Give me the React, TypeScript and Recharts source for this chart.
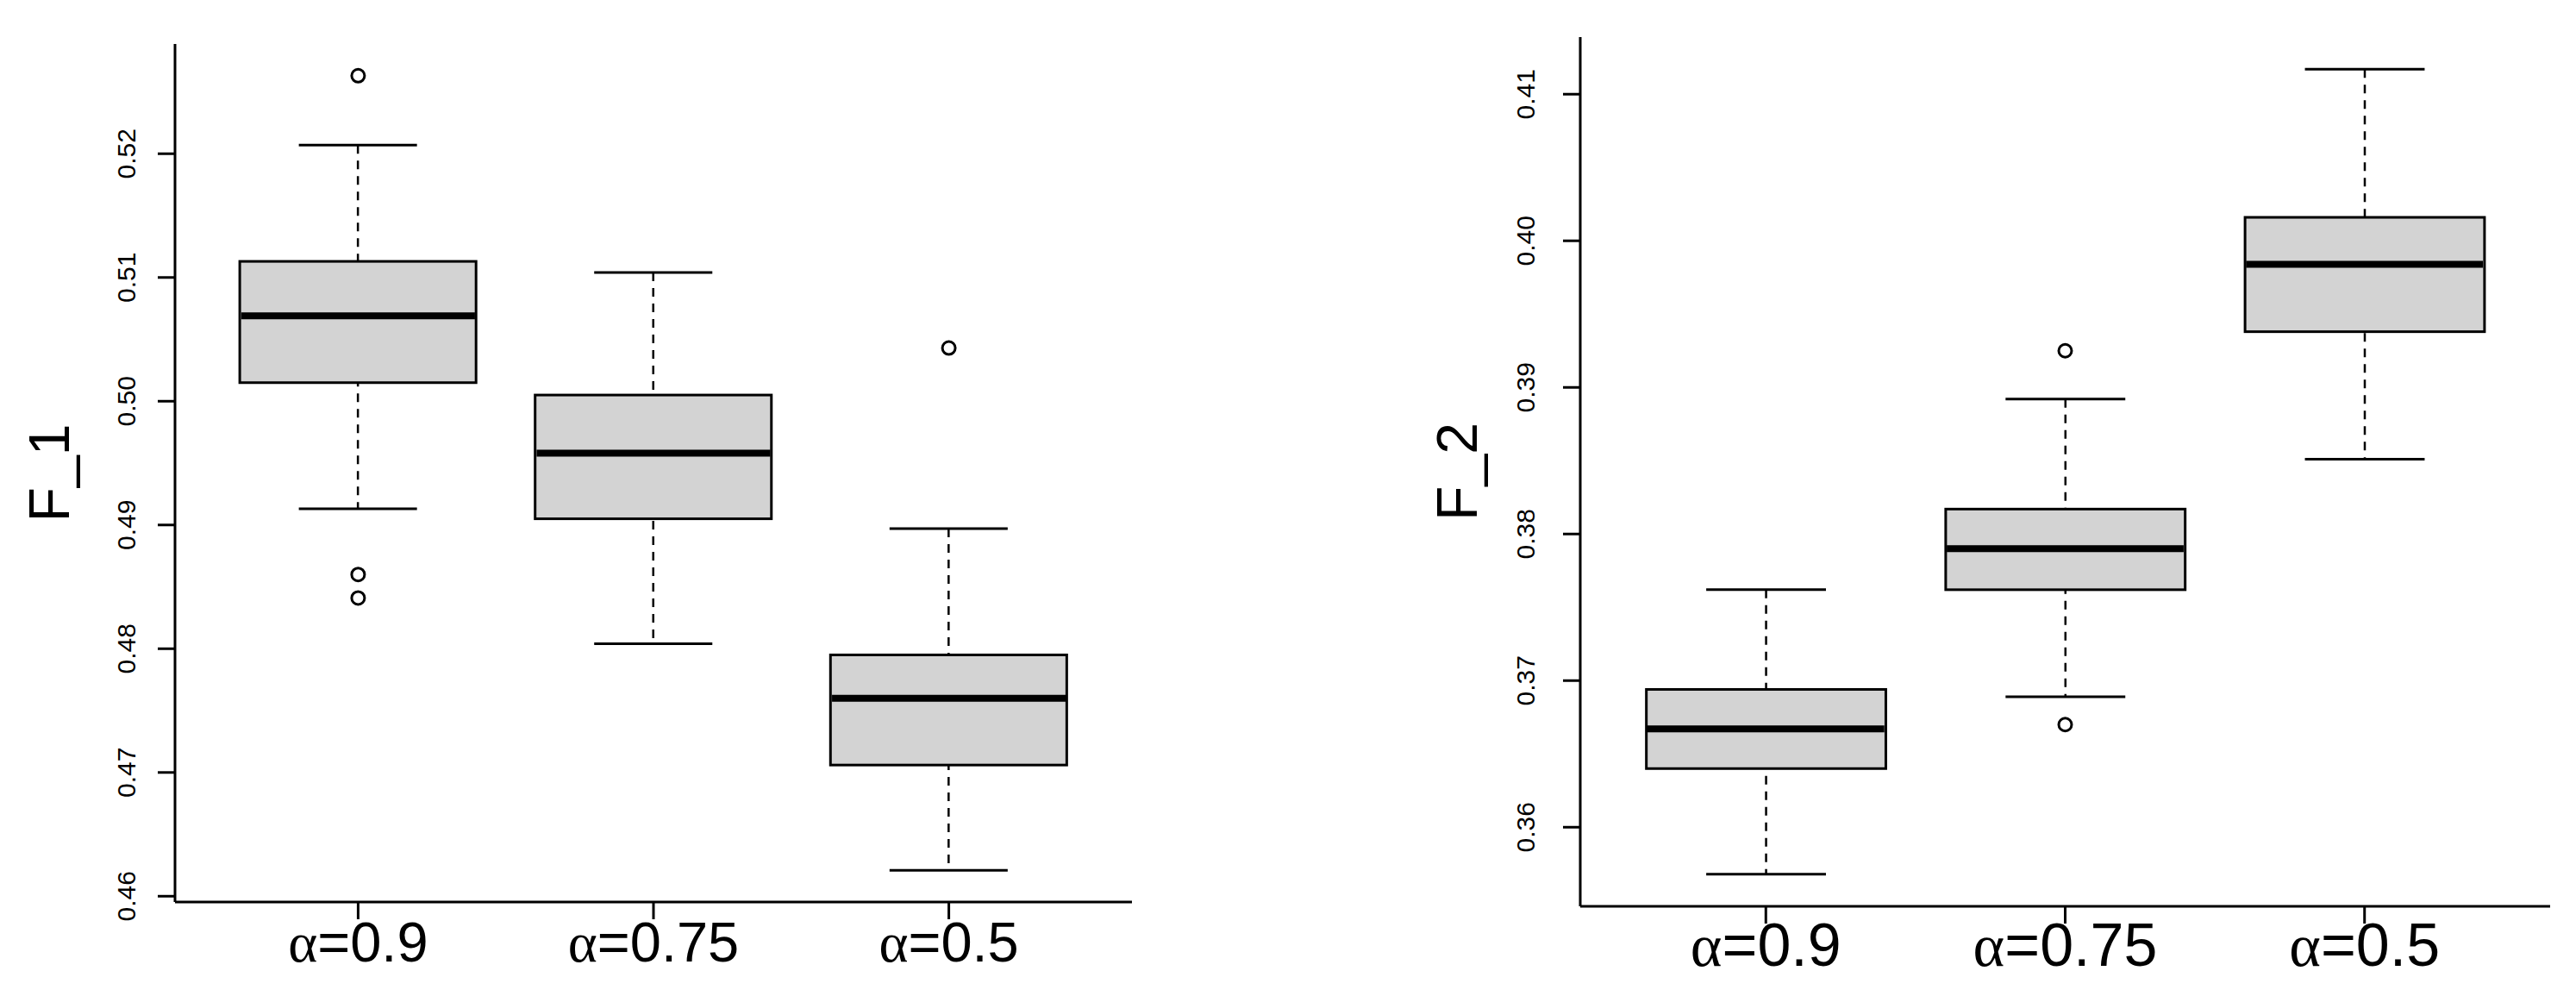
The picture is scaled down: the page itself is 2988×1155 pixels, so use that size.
import { ComposedChart, Bar, Scatter, XAxis, YAxis } from 'recharts';

const categories = ['α=0.9', 'α=0.75', 'α=0.5'];
const positions = [1, 2, 3];
const xDomain: [number, number] = [0.38, 3.62];

// F_1 panel
const f1Lower = [0.4913, 0.4804, 0.4621];
const f1Q1 = [0.5015, 0.4905, 0.4706];
const f1Median = [0.5069, 0.4958, 0.476];
const f1Q3 = [0.5113, 0.5005, 0.4795];
const f1Upper = [0.5207, 0.5104, 0.4897];
const f1Outliers = [[0.5263, 0.486, 0.4841], [], [0.5043]];
const f1Ticks = [0.46, 0.47, 0.48, 0.49, 0.5, 0.51, 0.52];

// F_2 panel
const f2Lower = [0.3568, 0.3689, 0.3851];
const f2Q1 = [0.364, 0.3762, 0.3938];
const f2Median = [0.3667, 0.379, 0.3984];
const f2Q3 = [0.3694, 0.3817, 0.4016];
const f2Upper = [0.3762, 0.3892, 0.4117];
const f2Outliers = [[], [0.3925, 0.367], []];
const f2Ticks = [0.36, 0.37, 0.38, 0.39, 0.4, 0.41];

const buildRows = (lower: number[], q1: number[], median: number[], q3: number[], upper: number[]) =>
  positions.map((pos, i) => ({
    pos,
    label: categories[i],
    whisker: [lower[i], upper[i]],
    box: [q1[i], q3[i]],
    median: median[i],
  }));

const buildOutliers = (outliers: number[][]) =>
  outliers.flatMap((vals, i) => vals.map((v) => ({ pos: positions[i], value: v })));

// same padding R uses (4% of the data range)
const rDomain = (lists: number[][]): [number, number] => {
  const all = lists.flat();
  const lo = Math.min(...all);
  const hi = Math.max(...all);
  const pad = (hi - lo) * 0.04;
  return [lo - pad, hi + pad];
};

const WhiskerShape = (props: any) => {
  const { x, y, width, height } = props;
  const cx = x + width / 2;
  const top = Math.min(y, y + height);
  const bottom = Math.max(y, y + height);
  const cap = width / 4;
  return (
    <g>
      <line x1={cx} x2={cx} y1={top} y2={bottom} stroke="#000" strokeWidth={2.5} strokeDasharray="10 8" />
      <line x1={cx - cap} x2={cx + cap} y1={top} y2={top} stroke="#000" strokeWidth={3} />
      <line x1={cx - cap} x2={cx + cap} y1={bottom} y2={bottom} stroke="#000" strokeWidth={3} />
    </g>
  );
};

const BoxShape = (props: any) => {
  const { x, y, width, height } = props;
  const top = Math.min(y, y + height);
  return <rect x={x} y={top} width={width} height={Math.abs(height)} fill="#D3D3D3" stroke="#000" strokeWidth={3} />;
};

interface PanelProps {
  title: string;
  rows: ReturnType<typeof buildRows>;
  outliers: { pos: number; value: number }[];
  ticks: number[];
  domain: [number, number];
  left: number;
  width: number;
  top: number;
  yAxisWidth: number;
  xAxisHeight: number;
  rightMargin: number;
  titleX: number;
  tickLabelGap: number;
  labelSize: number;
}

const BoxPanel = (p: PanelProps) => {
  const plotWidth = p.width - p.yAxisWidth - p.rightMargin;
  const unit = plotWidth / (xDomain[1] - xDomain[0]);
  const boxWidth = unit * 0.8;
  const height = 1155;

  const XTick = ({ x, y, payload }: any) => {
    const row = p.rows.find((r) => r.pos === payload.value);
    const label = row ? row.label : '';
    return (
      <text x={x} y={y + 49} textAnchor="middle" fontSize={p.labelSize} fill="#000">
        <tspan fontFamily="'Liberation Serif', 'DejaVu Serif', serif">{label.slice(0, 1)}</tspan>
        {label.slice(1)}
      </text>
    );
  };

  const YTick = ({ x, y, payload }: any) => {
    const bx = x - p.tickLabelGap;
    return (
      <text x={bx} y={y} transform={`rotate(-90 ${bx} ${y})`} textAnchor="middle" fontSize={30} fill="#000">
        {Number(payload.value).toFixed(2)}
      </text>
    );
  };

  const TitleLabel = ({ viewBox }: any) => {
    const cy = viewBox.y + viewBox.height / 2;
    return (
      <text x={p.titleX} y={cy} transform={`rotate(-90 ${p.titleX} ${cy})`} textAnchor="middle" fontSize={66} fill="#000">
        {p.title}
      </text>
    );
  };

  return (
    <div style={{ position: 'absolute', left: p.left, top: 0, width: p.width, height }}>
      <ComposedChart
        width={p.width}
        height={height}
        data={p.rows}
        margin={{ top: p.top, right: p.rightMargin, bottom: 0, left: 0 }}
        style={{ fontFamily: "'Liberation Sans', Arial, sans-serif" }}
      >
        <XAxis
          xAxisId="main"
          type="number"
          dataKey="pos"
          domain={xDomain}
          ticks={positions}
          allowDataOverflow
          height={p.xAxisHeight}
          axisLine={{ stroke: '#000', strokeWidth: 3 }}
          tickLine={{ stroke: '#000', strokeWidth: 3 }}
          tickSize={20}
          tickMargin={0}
          tick={<XTick />}
          interval={0}
        />
        <XAxis xAxisId="whisk" type="number" dataKey="pos" domain={xDomain} allowDataOverflow hide />
        <YAxis
          type="number"
          domain={p.domain}
          ticks={p.ticks}
          allowDataOverflow
          width={p.yAxisWidth}
          axisLine={{ stroke: '#000', strokeWidth: 3 }}
          tickLine={{ stroke: '#000', strokeWidth: 3 }}
          tickSize={20}
          tickMargin={0}
          tick={<YTick />}
          interval={0}
          label={{ content: <TitleLabel /> }}
        />
        <Bar xAxisId="whisk" dataKey="whisker" barSize={boxWidth} shape={<WhiskerShape />} isAnimationActive={false} />
        <Bar xAxisId="main" dataKey="box" barSize={boxWidth} shape={<BoxShape />} isAnimationActive={false} />
        <Scatter
          xAxisId="main"
          data={p.rows}
          dataKey="median"
          isAnimationActive={false}
          shape={(s: any) => (
            <line x1={s.cx - boxWidth / 2 + 1.5} x2={s.cx + boxWidth / 2 - 1.5} y1={s.cy} y2={s.cy} stroke="#000" strokeWidth={8} />
          )}
        />
        <Scatter
          xAxisId="main"
          data={p.outliers}
          dataKey="value"
          isAnimationActive={false}
          shape={(s: any) => <circle cx={s.cx} cy={s.cy} r={7.5} fill="none" stroke="#000" strokeWidth={3} />}
        />
      </ComposedChart>
    </div>
  );
};

const App = () => {
  const f1Rows = buildRows(f1Lower, f1Q1, f1Median, f1Q3, f1Upper);
  const f2Rows = buildRows(f2Lower, f2Q1, f2Median, f2Q3, f2Upper);
  return (
    <div style={{ position: 'absolute', left: 0, top: 0, width: 2988, height: 1155, background: '#fff' }}>
      <BoxPanel
        title="F_1"
        rows={f1Rows}
        outliers={buildOutliers(f1Outliers)}
        ticks={f1Ticks}
        domain={rDomain([f1Lower, f1Upper, ...f1Outliers])}
        left={0}
        width={1400}
        top={51}
        yAxisWidth={203}
        xAxisHeight={109}
        rightMargin={87}
        titleX={80}
        tickLabelGap={26}
        labelSize={65}
      />
      <BoxPanel
        title="F_2"
        rows={f2Rows}
        outliers={buildOutliers(f2Outliers)}
        ticks={f2Ticks}
        domain={rDomain([f2Lower, f2Upper, ...f2Outliers])}
        left={1500}
        width={1488}
        top={43}
        yAxisWidth={333}
        xAxisHeight={104}
        rightMargin={30}
        titleX={213}
        tickLabelGap={33}
        labelSize={70}
      />
    </div>
  );
};

export default App;
